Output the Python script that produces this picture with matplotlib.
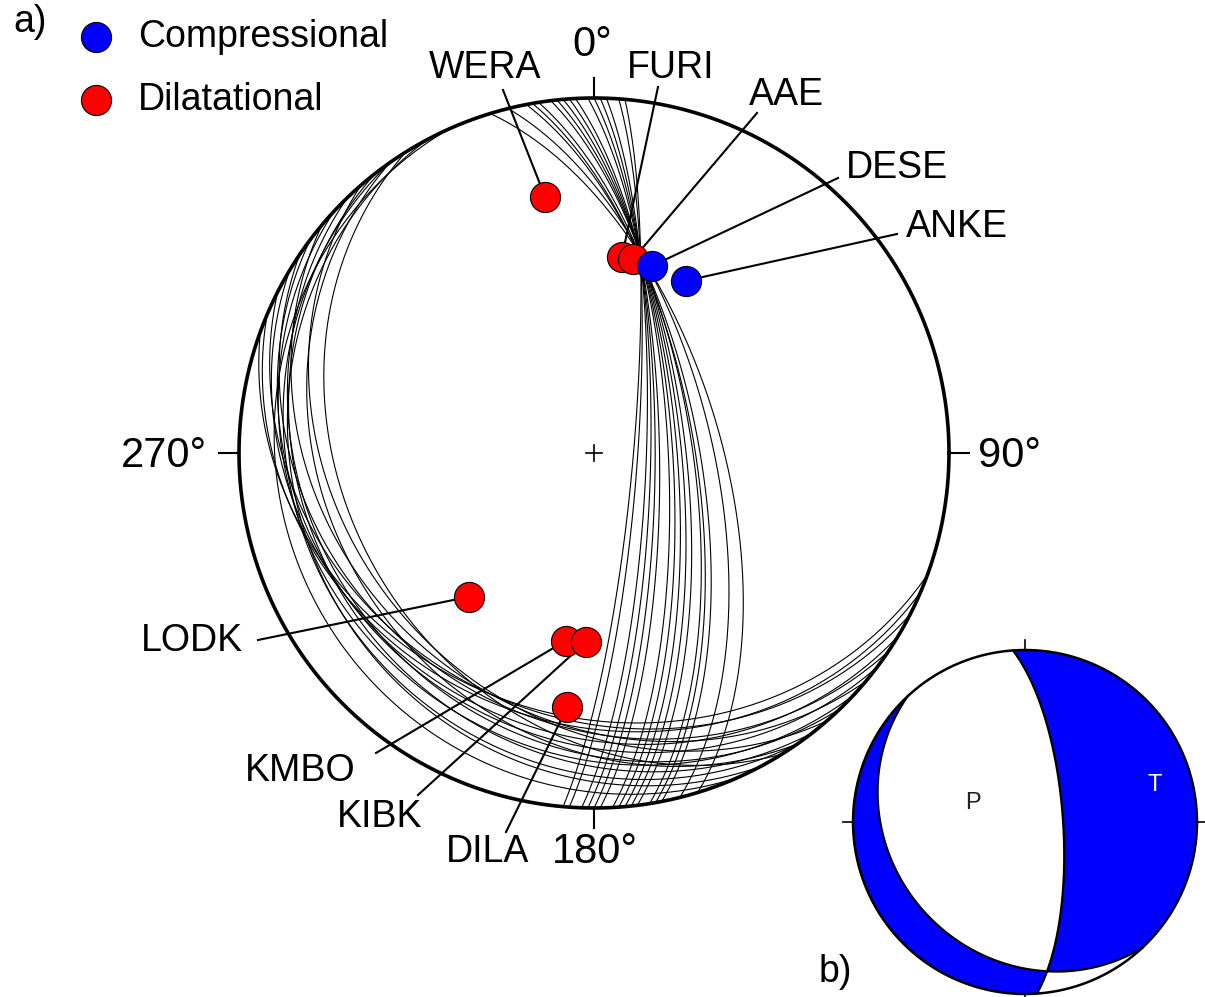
import numpy as np
import matplotlib
matplotlib.use("Agg")
import matplotlib.pyplot as plt
from matplotlib.patches import Circle

plt.rcParams['font.family'] = ['Liberation Sans', 'DejaVu Sans']

# ---------------- data ----------------
# acceptable nodal-plane solutions (strike, dip in degrees)
strike1 = [343, 346, 349, 350, 351, 353, 354, 355, 356, 357, 359, 0, 1, 2, 4, 5]
dip1 = [61, 63, 66, 67, 67.5, 69, 70, 71, 72, 73, 75, 76, 77, 78, 80, 81]
strike2 = [110, 113, 117, 121, 124, 127, 130, 133, 136, 139, 142, 145, 148, 152, 156, 145]
dip2 = [27, 25, 27, 23, 26, 22, 28, 19, 22, 30, 20, 26, 31, 17, 12, 17]

# preferred solution (panel b)
best_strike = [356, 137]
best_dip = [72, 22.6]

# station first-motion polarities
stations = ["WERA", "FURI", "AAE", "DESE", "ANKE", "LODK", "KMBO", "KIBK", "DILA"]
sta_az = [349.2, 8.1, 11.4, 17.2, 28.1, 221.0, 188.5, 182.4, 186.0]
sta_toa = [62.5, 46.5, 46.4, 45.9, 45.8, 44.6, 44.4, 44.2, 61.2]
sta_pol = ["D", "D", "D", "C", "C", "D", "D", "D", "D"]

axis_labels = ["0°", "90°", "180°", "270°"]
axis_az = [0, 90, 180, 270]

# ---------------- helpers ----------------
S2 = np.sqrt(2.0)


def proj(trend, plunge):
    """lower-hemisphere equal-area projection (radians in)"""
    r = S2 * np.sin((np.pi / 2 - plunge) / 2)
    return r * np.sin(trend), r * np.cos(trend)


def great_circle(s, d, n=500):
    s, d = np.radians(s), np.radians(d)
    a = np.linspace(0, np.pi, n)
    sv = np.array([np.cos(s), np.sin(s), 0.0])
    dv = np.array([np.cos(d) * np.cos(s + np.pi / 2), np.cos(d) * np.sin(s + np.pi / 2), np.sin(d)])
    v = np.outer(np.cos(a), sv) + np.outer(np.sin(a), dv)
    trend = np.arctan2(v[:, 1], v[:, 0])
    plunge = np.arcsin(np.clip(v[:, 2], -1, 1))
    return proj(trend, plunge)


def normal(s, d):
    s, d = np.radians(s), np.radians(d)
    return np.array([-np.sin(d) * np.sin(s), np.sin(d) * np.cos(s), -np.cos(d)])


# ---------------- figure ----------------
W, H = 1205, 997
CX, CY, R = 594, 453, 355
fig = plt.figure(figsize=(W / 100, H / 100), dpi=100)
ax = fig.add_axes([0, 0, 1, 1])
ax.set_xlim(-CX / R, (W - CX) / R)
ax.set_ylim((CY - H) / R, CY / R)
ax.axis('off')


def px(x, y):
    return (x - CX) / R, (CY - y) / R


# outer circle
t = np.linspace(0, 2 * np.pi, 1000)
ax.plot(np.cos(t), np.sin(t), color='black', lw=2.6, zorder=3)
for a in axis_az:
    ar = np.radians(a)
    ax.plot([np.sin(ar), 1.055 * np.sin(ar)], [np.cos(ar), 1.055 * np.cos(ar)],
            color='black', lw=1.5, zorder=3)
ax.plot([-0.022, 0.022], [0, 0], color='black', lw=1.2)
ax.plot([0, 0], [-0.022, 0.022], color='black', lw=1.2)

label_px = {"0°": (592, 45), "90°": (1010, 456), "180°": (595, 852), "270°": (164, 456)}
for lab in axis_labels:
    x, y = px(*label_px[lab])
    ax.text(x, y, lab, fontsize=30, ha='center', va='center')

# nodal planes
for s, d in zip(strike1, dip1):
    x, y = great_circle(s, d)
    ax.plot(x, y, color='black', lw=0.8, zorder=2)
for s, d in zip(strike2, dip2):
    x, y = great_circle(s, d)
    ax.plot(x, y, color='black', lw=0.8, zorder=2)

# stations
text_px = {"WERA": (485, 68), "FURI": (671, 68), "AAE": (786, 95), "DESE": (897, 168),
           "ANKE": (957, 227), "LODK": (192, 641), "KMBO": (300, 771), "KIBK": (380, 817),
           "DILA": (488, 852)}
line_px = {"WERA": (503, 90), "FURI": (658, 87), "AAE": (757, 113), "DESE": (838, 178),
           "ANKE": (897, 234), "LODK": (258, 640), "KMBO": (376, 753), "KIBK": (418, 795),
           "DILA": (506, 832)}
colors = {"C": "#0000ff", "D": "#ff0000"}
for name, az, toa, pol in zip(stations, sta_az, sta_toa, sta_pol):
    sx, sy = proj(np.radians(az), np.radians(90 - toa))
    lx, ly = px(*line_px[name])
    ax.plot([lx, sx], [ly, sy], color='black', lw=1.5, zorder=4)
    ax.scatter([sx], [sy], s=470, color=colors[pol], edgecolor='black', lw=0.8, zorder=5)
    tx, ty = px(*text_px[name])
    ax.text(tx, ty, name, fontsize=27, ha='center', va='center')

# legend
for (lx, ly), pol, lab in [((96, 37), "C", "Compressional"), ((96, 100), "D", "Dilatational")]:
    x, y = px(lx, ly)
    ax.scatter([x], [y], s=470, color=colors[pol], edgecolor='black', lw=0.8, zorder=5)
    x2, _ = px(138, ly)
    ax.text(x2, y, lab, fontsize=27, ha='left', va='center')

x, y = px(30, 22)
ax.text(x, y, "a)", fontsize=27, ha='center', va='center')

# ---------------- panel b ----------------
BX, BY, BR = 1025, 822, 172
h = 190
axb = fig.add_axes([(BX - h) / W, (H - BY - h) / H, 2 * h / W, 2 * h / H])
axb.set_xlim(-h / BR, h / BR)
axb.set_ylim(-h / BR, h / BR)
axb.axis('off')
axb.patch.set_alpha(0)

g = np.linspace(-1.0, 1.0, 700)
X, Y = np.meshgrid(g, g)
rr = np.clip(np.hypot(X, Y), 0, 1)
az = np.arctan2(X, Y)
th = 2 * np.arcsin(rr / S2)
vec = np.stack([np.sin(th) * np.cos(az), np.sin(th) * np.sin(az), np.cos(th)], axis=-1)
n1 = normal(best_strike[0], best_dip[0])
n2 = normal(best_strike[1], best_dip[1])
P = (vec @ n1) * (vec @ n2)
disk = Circle((0, 0), 1, transform=axb.transData)
cs = axb.contourf(X, Y, P, levels=[P.min() - 1, 0], colors=['#0000ff'], antialiased=True)
cs.set_clip_path(disk)
for s, d in zip(best_strike, best_dip):
    x, y = great_circle(s, d)
    axb.plot(x, y, color='black', lw=1.6)
axb.plot(np.cos(t), np.sin(t), color='black', lw=1.8)
for a in axis_az:
    ar = np.radians(a)
    axb.plot([np.sin(ar), 1.06 * np.sin(ar)], [np.cos(ar), 1.06 * np.cos(ar)], color='black', lw=1.2)
axb.text((973 - BX) / BR, (BY - 803) / BR, "P", fontsize=17, ha='center', va='center', color='#222222')
axb.text((1155 - BX) / BR, (BY - 785) / BR, "T", fontsize=17, ha='center', va='center', color='white')

x, y = px(835, 972)
ax.text(x, y, "b)", fontsize=27, ha='center', va='center')

fig.savefig("out.png", dpi=100)
